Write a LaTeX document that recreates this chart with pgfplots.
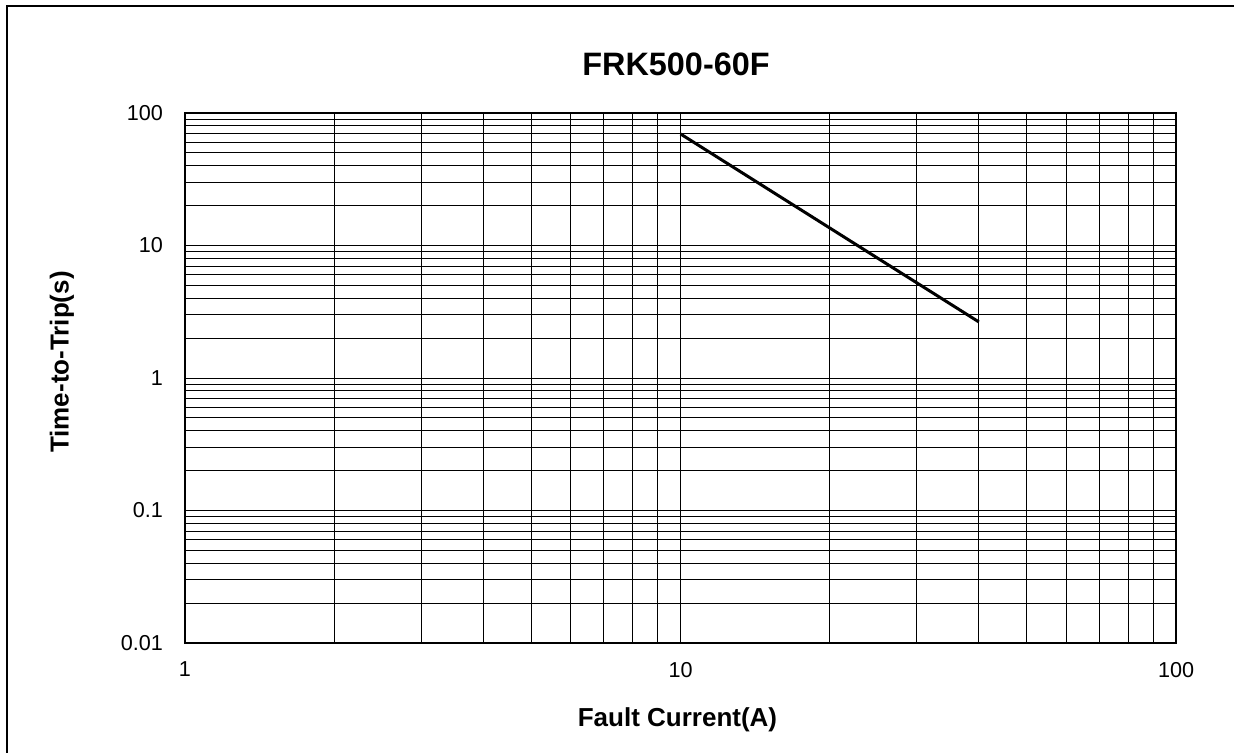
\documentclass[border=0pt]{standalone}
\usepackage{pgfplots}
\pgfplotsset{compat=1.18}
\usepackage{fontspec}
\setmainfont{Liberation Sans}
\begin{document}
\begin{tikzpicture}
\coordinate (A) at (92.5pt,-321.5pt);
\begin{axis}[
  at={(A)}, anchor=south west,
  scale only axis, width=495.5pt, height=265pt,
  xmode=log, ymode=log,
  xmin=1, xmax=100, ymin=0.01, ymax=100,
  xtick={1,10,100}, xticklabels={1,10,100},
  ytick={0.01,0.1,1,10,100}, yticklabels={0.01,0.1,1,10,100},
  grid=both,
  major grid style={black, line width=0.5pt},
  minor grid style={black, line width=0.5pt},
  axis line style={line width=1pt},
  major tick length=0pt, minor tick length=0pt,
  tick label style={font=\fontsize{10.8}{12}\selectfont},
  xticklabel style={yshift=-6pt},
  yticklabel style={xshift=-7.5pt},
]
\addplot[black, line width=1.5pt] coordinates {(10,69.5) (40,2.65)};
\end{axis}
\node[font=\bfseries\fontsize{16.2}{19}\selectfont] at (338pt,-32pt) {FRK500-60F};
\node[font=\bfseries\fontsize{13}{15}\selectfont] at (338.75pt,-360pt) {Fault Current(A)};
\node[font=\bfseries\fontsize{13}{15}\selectfont, rotate=90] at (31pt,-181pt) {Time-to-Trip(s)};
\draw[line width=1pt] (3.5pt,-376.5pt) -- (3.5pt,-3pt) -- (617pt,-3pt);
\pgfresetboundingbox
\path[use as bounding box] (0pt,0pt) rectangle (617pt,-376.5pt);
\end{tikzpicture}
\end{document}
